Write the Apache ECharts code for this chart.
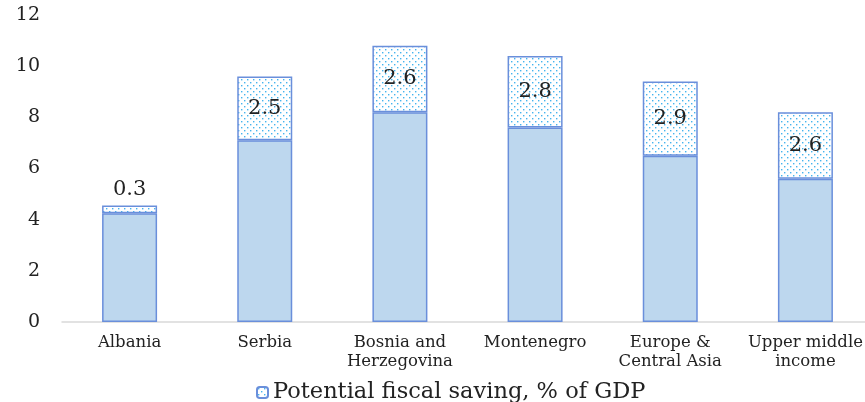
<!DOCTYPE html>
<html>
<head>
<meta charset="utf-8">
<script src="https://cdn.jsdelivr.net/npm/echarts@6/dist/echarts.min.js"></script>
<style>html,body{margin:0;padding:0;background:#fff}#c{width:865px;height:402px}</style>
</head>
<body>
<div id="c"></div>
<script>
const categories = ['Albania', 'Serbia', 'Bosnia and\nHerzegovina', 'Montenegro', 'Europe &\nCentral Asia', 'Upper middle\nincome'];
const baseValues = [4.25, 7.1, 8.2, 7.6, 6.5, 5.6];
const savingValues = [0.3, 2.5, 2.6, 2.8, 2.9, 2.6];
const yTicks = [0, 2, 4, 6, 8, 10, 12];

function makePattern() {
  const c = document.createElement('canvas');
  c.width = 6; c.height = 6;
  const g = c.getContext('2d');
  g.fillStyle = '#ffffff';
  g.fillRect(0, 0, 6, 6);
  g.fillStyle = '#45b4ee';
  g.fillRect(1, 1, 1.4, 1.4);
  g.fillRect(4, 4, 1.4, 1.4);
  return c;
}
const pattern = { image: makePattern(), repeat: 'repeat' };
const serif = '"DejaVu Serif", "Liberation Serif", serif';

const chart = echarts.init(document.getElementById('c'));
chart.setOption({
  animation: false,
  grid: { left: 62, width: 811, top: 15, bottom: 80, outerBoundsMode: 'none', containLabel: false },
  legend: {
    data: ['Potential fiscal saving, % of GDP'],
    top: 376,
    left: 251,
    itemWidth: 11,
    itemHeight: 11,
    itemGap: 12,
    textStyle: { fontFamily: serif, fontSize: 22.5, color: '#222' }
  },
  xAxis: {
    type: 'category',
    data: categories,
    axisLine: { lineStyle: { color: '#d9d9d9', width: 1.5 } },
    axisTick: { show: false },
    axisLabel: { fontFamily: serif, fontSize: 16.5, color: '#222', lineHeight: 19, margin: 11, interval: 0 }
  },
  yAxis: {
    type: 'value',
    min: yTicks[0], max: yTicks[yTicks.length - 1], interval: 2,
    axisLine: { show: false },
    axisTick: { show: false },
    splitLine: { show: false },
    axisLabel: { fontFamily: serif, fontSize: 19, color: '#222', margin: 22 }
  },
  series: [
    {
      name: 'Base',
      type: 'bar',
      stack: 'total',
      data: baseValues,
      barWidth: 55,
      itemStyle: { color: '#bdd7ee', borderColor: '#6a8fdb', borderWidth: 1.5 }
    },
    {
      name: 'Potential fiscal saving, % of GDP',
      type: 'bar',
      stack: 'total',
      data: savingValues.map((v, i) => ({
        value: v,
        label: i === 0 ? { position: 'top', distance: 6 } : { position: 'inside' }
      })),
      barWidth: 55,
      itemStyle: { color: pattern, borderColor: '#6a8fdb', borderWidth: 1.5 },
      label: {
        show: true,
        fontFamily: serif,
        fontSize: 21,
        color: '#222',
        formatter: p => p.value.toFixed(1)
      }
    }
  ]
});
</script>
</body>
</html>
